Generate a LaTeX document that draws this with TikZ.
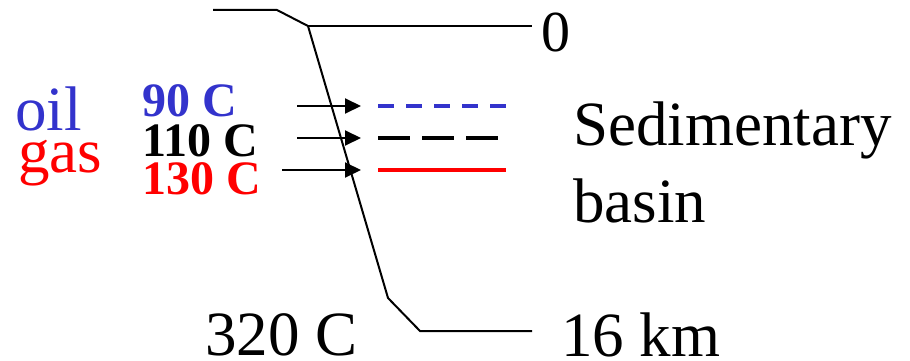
\documentclass[tikz,border=0pt]{standalone}
\usepackage{fontspec}
\setmainfont{Liberation Serif}
\usetikzlibrary{arrows.meta}
\definecolor{oilblue}{RGB}{51,51,204}
\definecolor{gasred}{RGB}{255,0,0}
\begin{document}
\begin{tikzpicture}[x=1pt,y=-1pt,
  lbl/.style={inner sep=0pt,anchor=base west,font=\fontsize{63}{75}\selectfont},
  zlbl/.style={inner sep=0pt,anchor=base west,font=\fontsize{58}{70}\selectfont},
  tlbl/.style={inner sep=0pt,anchor=base west,font=\fontsize{48}{56}\selectfont\bfseries},
  profile/.style={line width=2pt,line join=miter},
  arr/.style={line width=2pt,-{Triangle[length=16pt,width=15pt]}},
  level/.style={line width=4pt,line cap=butt}]
\useasboundingbox (0,0) rectangle (910,361);
% profile vertices
\coordinate (tl) at (213,10);
\coordinate (tk) at (277,10);
\coordinate (top) at (308,26);
\coordinate (topr) at (532,26);
\coordinate (bot) at (388,298);
\coordinate (bk) at (420,331);
\coordinate (botr) at (532,331);
\draw[profile] (tl) -- (tk) -- (top) -- (bot) -- (bk) -- (botr);
\draw[profile] (top) -- (topr);
% arrows
\coordinate (a1s) at (297,106); \coordinate (a1e) at (361,106);
\coordinate (a2s) at (297,138); \coordinate (a2e) at (361,138);
\coordinate (a3s) at (282,170); \coordinate (a3e) at (361,170);
\draw[arr] (a1s) -- (a1e);
\draw[arr] (a2s) -- (a2e);
\draw[arr] (a3s) -- (a3e);
% level lines
\coordinate (l1s) at (378,106); \coordinate (l1e) at (506,106);
\coordinate (l2s) at (378,138); \coordinate (l2e) at (498,138);
\coordinate (l3s) at (378,170); \coordinate (l3e) at (506,170);
\draw[level,oilblue,dash pattern=on 15.7pt off 12.3pt] (l1s) -- (l1e);
\draw[level,black,dash pattern=on 32pt off 12pt] (l2s) -- (l2e);
\draw[level,gasred] (l3s) -- (l3e);
% labels
\node[lbl,oilblue] (oil) at (15,130) {oil};
\node[lbl,gasred] (gas) at (18,172) {gas};
\node[tlbl,oilblue] (t90) at (142,116) {90 C};
\node[tlbl,black] (t110) at (142,156) {110 C};
\node[tlbl,gasred] (t130) at (142,194) {130 C};
\node[zlbl] (zero) at (541,52) {0};
\node[lbl] (km16) at (561,356) {16 km};
\node[lbl] (t320) at (205,355) {320 C};
\node[lbl] (sed) at (573,145) {Sedimentary};
\node[lbl] (basin) at (573,222) {basin};
\end{tikzpicture}
\end{document}
